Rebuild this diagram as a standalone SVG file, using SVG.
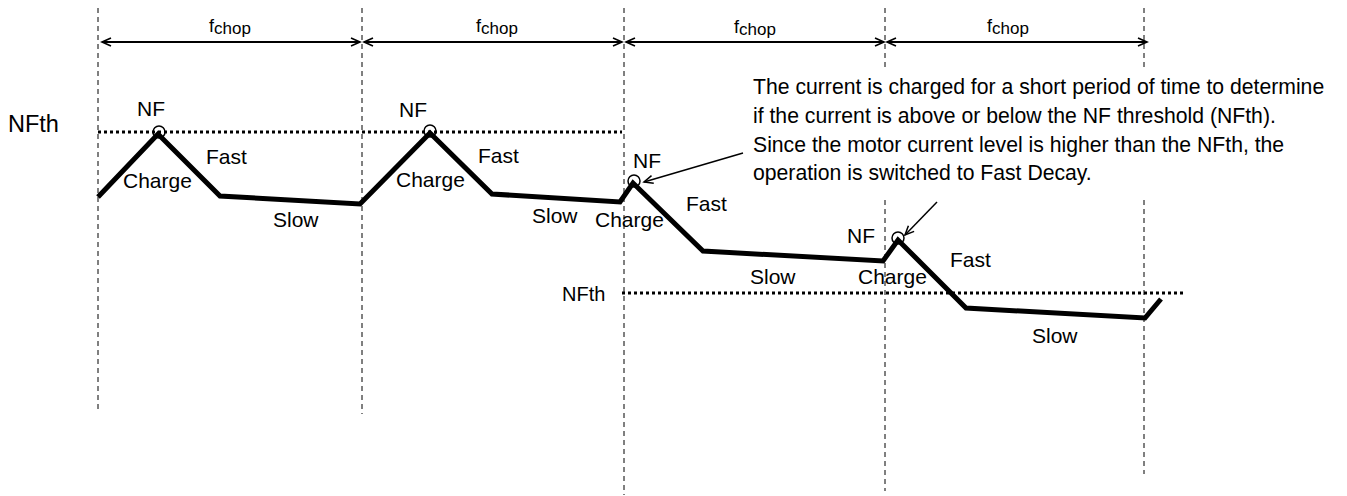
<svg xmlns="http://www.w3.org/2000/svg" width="1347" height="496" viewBox="0 0 1347 496">
<style>
text{font-family:"Liberation Sans",Arial,sans-serif;fill:#000}
.lbl{font-size:21px}
.ann{font-size:21.2px}
.grid{stroke:#000;stroke-width:1;stroke-dasharray:5,4;fill:none}
.th{stroke:#000;stroke-width:3;stroke-dasharray:3,3;fill:none}
.dim{stroke:#000;stroke-width:2;fill:none}
.wave{stroke:#000;stroke-width:5;fill:none;stroke-linejoin:miter;stroke-miterlimit:10}
.pk{stroke:#000;stroke-width:1.5;fill:none}
.ptr{stroke:#000;stroke-width:1.5;fill:none}
</style>
<defs>
<marker id="ah" markerUnits="userSpaceOnUse" markerWidth="14" markerHeight="12" refX="10" refY="5" orient="auto-start-reverse" viewBox="0 0 14 10">
<path d="M1,1 L10,5 L1,9" fill="none" stroke="#000" stroke-width="1.6"/>
</marker>
<marker id="ah2" markerUnits="userSpaceOnUse" markerWidth="14" markerHeight="12" refX="10" refY="5" orient="auto" viewBox="0 0 14 10">
<path d="M1,1 L10,5 L1,9" fill="none" stroke="#000" stroke-width="1.5"/>
</marker>
</defs>
<g id="grid">
<line class="grid" x1="98" y1="8" x2="98" y2="412"/>
<line class="grid" x1="362" y1="8" x2="362" y2="414"/>
<line class="grid" x1="624" y1="8" x2="624" y2="495"/>
<line class="grid" x1="885" y1="8" x2="885" y2="70"/>
<line class="grid" x1="885" y1="200" x2="885" y2="491"/>
<line class="grid" x1="1144" y1="8" x2="1144" y2="70"/>
<line class="grid" x1="1144" y1="200" x2="1144" y2="474"/>
</g>
<g id="thresholds">
<line class="th" x1="98" y1="132" x2="622" y2="132"/>
<line class="th" x1="622" y1="293" x2="1185" y2="293"/>
<text x="8" y="132" style="font-size:23.5px">NFth</text>
<text x="562" y="301" style="font-size:20px">NFth</text>
</g>
<g id="periods">
<line class="dim" x1="102" y1="42" x2="360" y2="42" marker-start="url(#ah)" marker-end="url(#ah)"/>
<line class="dim" x1="364" y1="42" x2="622" y2="42" marker-start="url(#ah)" marker-end="url(#ah)"/>
<line class="dim" x1="626" y1="42" x2="884" y2="42" marker-start="url(#ah)" marker-end="url(#ah)"/>
<line class="dim" x1="887" y1="42" x2="1147" y2="42" marker-start="url(#ah)" marker-end="url(#ah)"/>
<text x="209" y="32" style="font-size:18px">f<tspan dy="2" style="font-size:17px">chop</tspan></text>
<text x="476" y="32" style="font-size:18px">f<tspan dy="2" style="font-size:17px">chop</tspan></text>
<text x="734" y="33" style="font-size:18px">f<tspan dy="2" style="font-size:17px">chop</tspan></text>
<text x="987" y="32" style="font-size:18px">f<tspan dy="2" style="font-size:17px">chop</tspan></text>
</g>
<g id="waveform">
<polyline class="wave" points="98,197 158,134 220,196 360,204 430,133 492,194 620,202 633,183 703,251 883,261 898,240 966,308 1145,318 1161,299"/>
<circle class="pk" cx="159" cy="132" r="6"/>
<circle class="pk" cx="430" cy="131" r="6"/>
<circle class="pk" cx="634" cy="181" r="6"/>
<circle class="pk" cx="898" cy="238" r="6"/>
</g>
<g id="labels" class="lbl">
<text class="lbl" x="137" y="116">NF</text>
<text class="lbl" x="206" y="164">Fast</text>
<text class="lbl" x="123" y="188">Charge</text>
<text class="lbl" x="273" y="227">Slow</text>
<text class="lbl" x="399" y="117">NF</text>
<text class="lbl" x="478" y="163">Fast</text>
<text class="lbl" x="396" y="187">Charge</text>
<text class="lbl" x="532" y="223">Slow</text>
<text class="lbl" x="633" y="168">NF</text>
<text class="lbl" x="686" y="211">Fast</text>
<text class="lbl" x="595" y="227">Charge</text>
<text class="lbl" x="750" y="284">Slow</text>
<text class="lbl" x="847" y="243">NF</text>
<text class="lbl" x="950" y="267">Fast</text>
<text class="lbl" x="858" y="284">Charge</text>
<text class="lbl" x="1032" y="343">Slow</text>
</g>
<g id="annotation">
<text class="ann" x="753" y="94">The current is charged for a short period of time to determine</text>
<text class="ann" x="753" y="123">if the current is above or below the NF threshold (NFth).</text>
<text class="ann" x="753" y="152">Since the motor current level is higher than the NFth, the</text>
<text class="ann" x="753" y="180">operation is switched to Fast Decay.</text>
</g>
<g id="connectors">
<line class="ptr" x1="743" y1="153" x2="644" y2="182" marker-end="url(#ah2)"/>
<line class="ptr" x1="937" y1="202" x2="905" y2="235" marker-end="url(#ah2)"/>
</g>
</svg>
